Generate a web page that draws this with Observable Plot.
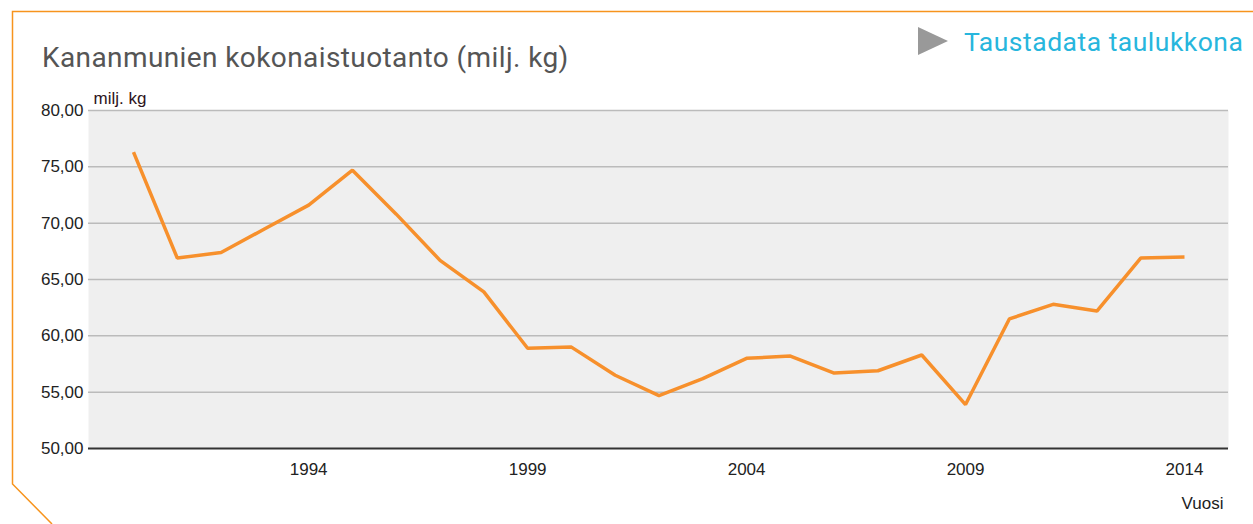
<!DOCTYPE html>
<html>
<head>
<meta charset="utf-8">
<script src="https://cdn.jsdelivr.net/npm/d3@7"></script>
<script src="https://cdn.jsdelivr.net/npm/@observablehq/plot@0.6"></script>
<style>
  html, body { margin: 0; padding: 0; background: #fff; width: 1253px; height: 524px; overflow: hidden; }
  #wrap { position: relative; width: 1253px; height: 524px; }
  #header { position: relative; height: 85px; }
  #title { position: absolute; left: 42px; top: 41px; font-family: Roboto, "Open Sans", sans-serif; font-size: 28px; letter-spacing: 0.4px; line-height: normal; color: #555; white-space: nowrap; }
  #link { position: absolute; left: 964px; top: 25.5px; font-family: Roboto, "Open Sans", sans-serif; font-size: 26.5px; letter-spacing: 0.5px; line-height: normal; color: #27b6dd; white-space: nowrap; }
  #tri { position: absolute; left: 918px; top: 27px; width: 0; height: 0; border-top: 14.5px solid transparent; border-bottom: 14.5px solid transparent; border-left: 30px solid #999; }
  #deco { position: absolute; left: 0; top: 0; pointer-events: none; }
  #chart svg { display: block; }
</style>
</head>
<body>
<div id="wrap">
  <div id="header">
    <div id="title">Kananmunien kokonaistuotanto (milj. kg)</div>
    <div id="tri"></div>
    <div id="link">Taustadata taulukkona</div>
  </div>
  <div id="chart"></div>
  <svg id="deco" width="1253" height="524"><path d="M1253,11.5 H12.5 V484 L52,524" fill="none" stroke="#f7941d" stroke-width="1.5"/></svg>
</div>
<script>
const years = [1990,1991,1992,1993,1994,1995,1996,1997,1998,1999,2000,2001,2002,2003,2004,2005,2006,2007,2008,2009,2010,2011,2012,2013,2014];
const production = [76.3,66.9,67.4,69.5,71.6,74.7,70.8,66.7,63.9,58.9,59.0,56.5,54.7,56.2,58.0,58.2,56.7,56.9,58.3,53.9,61.5,62.8,62.2,66.9,67.0];
const xTicks = [1994,1999,2004,2009,2014];
const yTicks = [50,55,60,65,70,75,80];
const yUnit = "milj. kg";
const xTitle = "Vuosi";

const data = years.map((y, i) => ({year: y, value: production[i]}));
const fmt = v => v.toFixed(2).replace(".", ",");

const chart = Plot.plot({
  width: 1253,
  height: 439,
  marginTop: 25,
  marginBottom: 76,
  marginLeft: 88,
  marginRight: 25,
  style: {fontFamily: "Liberation Sans, Arial, sans-serif", fontSize: "17px", color: "#222", background: "transparent"},
  x: {domain: [1990, 2014], insetLeft: 45, insetRight: 44},
  y: {domain: [50, 80]},
  marks: [
    Plot.frame({fill: "#efefef", stroke: null}),
    Plot.ruleY(yTicks.filter(d => d > 50), {stroke: "#bbb", strokeWidth: 1.5}),
    Plot.ruleY([50], {stroke: "#333", strokeWidth: 2}),
    Plot.axisY(yTicks, {tickSize: 0, tickPadding: 5, tickFormat: fmt, label: null, fontSize: 17, fill: "#222"}),
    Plot.axisX(xTicks, {tickSize: 0, tickPadding: 14, tickFormat: d => String(d), label: null, fontSize: 17, fill: "#222"}),
    Plot.line(data, {x: "year", y: "value", stroke: "#f7902c", strokeWidth: 3.5, strokeLinejoin: "miter", strokeLinecap: "butt"}),
    Plot.text([yUnit], {frameAnchor: "top-left", text: d => d, dx: 5, dy: -19, lineAnchor: "top", fontSize: 17, fill: "#2e1420", textAnchor: "start"}),
    Plot.text([xTitle], {frameAnchor: "bottom-right", text: d => d, dx: -5, dy: 60, fontSize: 17, fill: "#222", textAnchor: "end"})
  ]
});
document.getElementById("chart").appendChild(chart);
</script>
</body>
</html>
